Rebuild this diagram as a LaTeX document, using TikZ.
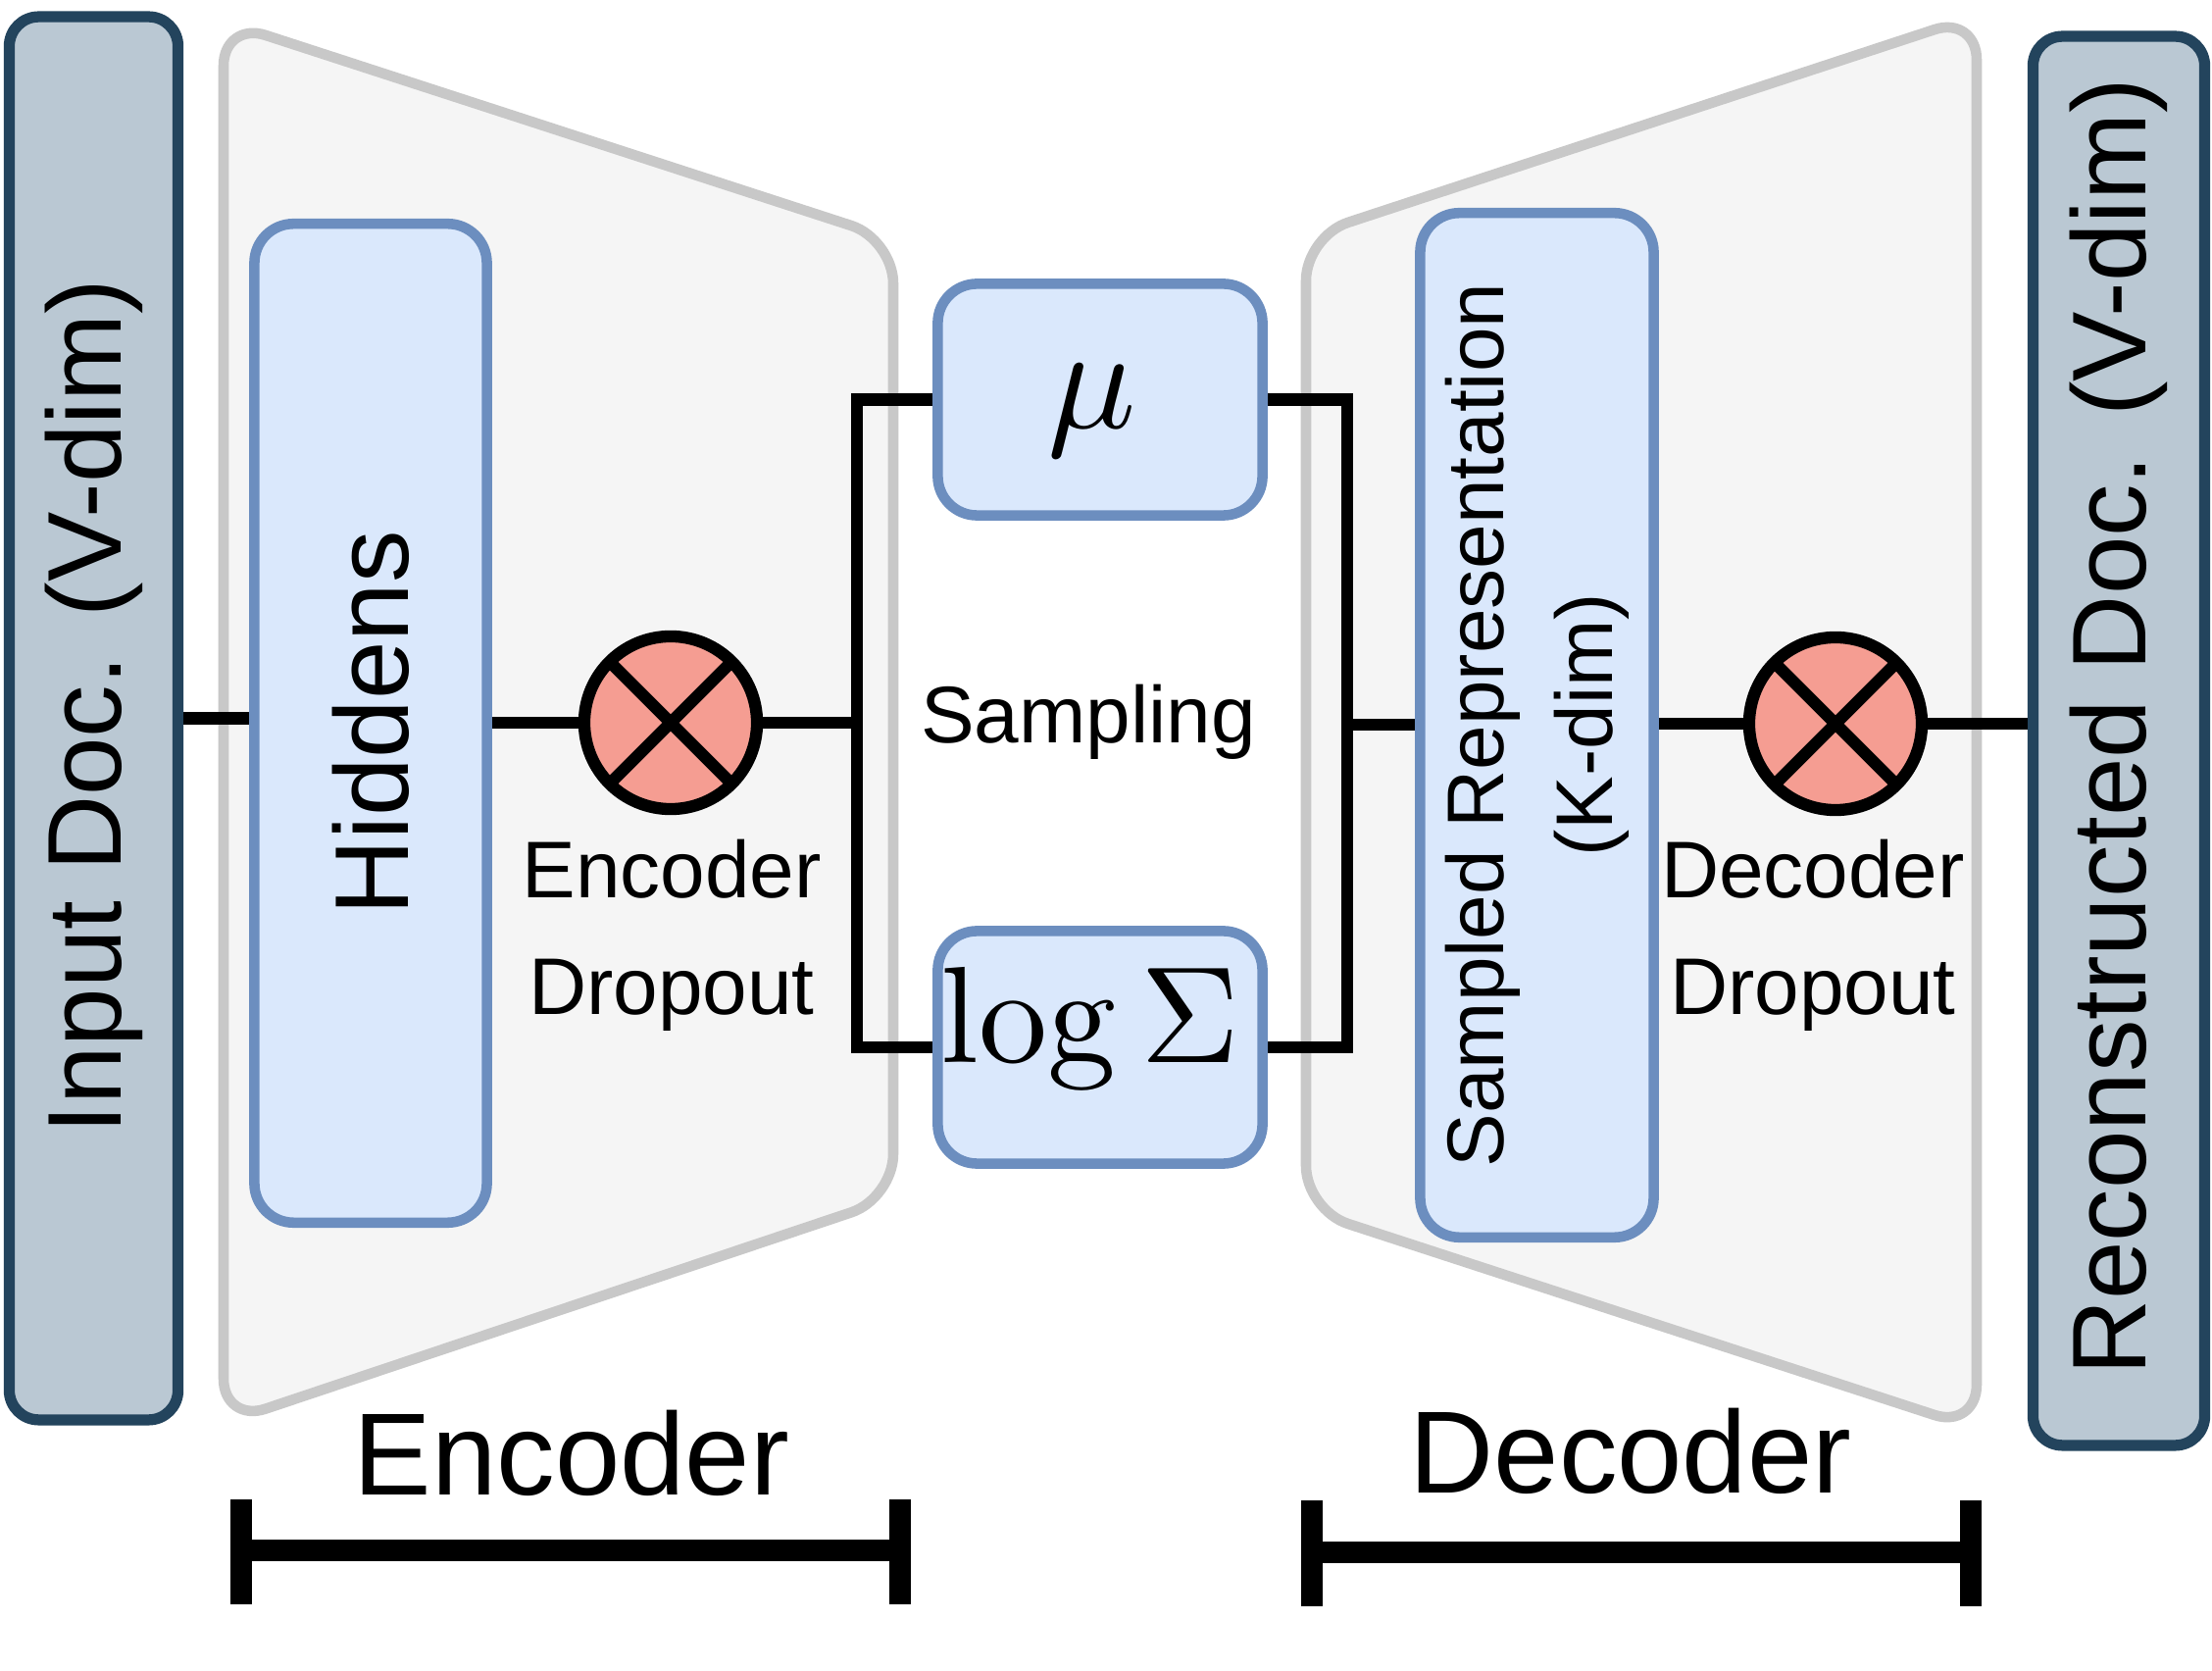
\documentclass[tikz,border=0pt]{standalone}
\usepackage{graphicx}
\usepackage[no-math]{fontspec}
\setmainfont{Liberation Sans}
\definecolor{docfill}{HTML}{BAC8D3}
\definecolor{docdraw}{HTML}{23445D}
\definecolor{bluefill}{HTML}{DAE8FC}
\definecolor{bluedraw}{HTML}{6C8EBF}
\definecolor{trapfill}{HTML}{F5F5F5}
\definecolor{trapdraw}{HTML}{C8C8C8}
\definecolor{dropfill}{HTML}{F59D92}
\begin{document}
\begin{tikzpicture}[x=0.01cm,y=-0.01cm,
  docbox/.style={draw=docdraw,fill=docfill,line width=3.2pt,rounded corners=0.3cm,inner sep=0,rotate=90,font=\fontsize{30.4}{36}\selectfont},
  bluebox/.style={draw=bluedraw,fill=bluefill,line width=3pt,rounded corners=0.4cm,inner sep=0},
  trap/.style={draw=trapdraw,fill=trapfill,line width=3pt,rounded corners=0.45cm},
  conn/.style={line width=3.5pt},
  dropc/.style={circle,draw,fill=dropfill,line width=3.5pt,minimum size=1.76cm,inner sep=0,outer sep=0},
  crossline/.style={line width=3.5pt},
  lab/.style={inner sep=0,align=center,font=\fontsize{23.3}{33.9}\selectfont},
  biglab/.style={inner sep=0,font=\fontsize{33.9}{40}\selectfont},
  mathlab/.style={anchor=base,inner sep=0,font=\fontsize{10}{12}\selectfont},
  brk/.style={line width=6.5pt}
]
\path[use as bounding box,fill=white] (0,0) rectangle (2256,1704);

% trapezoids
\draw[trap] (228,22) -- (911,244) -- (911,1222) -- (228,1451) -- cycle;
\draw[trap] (1332,241) -- (2016,16) -- (2016,1457) -- (1332,1234) -- cycle;

% nodes
\node[docbox,minimum width=14.30cm,minimum height=1.72cm] (input) at (95.5,732.5) {\hspace*{0.24cm}Input Doc. (V-dim)};
\node[docbox,minimum width=14.36cm,minimum height=1.75cm] (recon) at (2161,755.5) {\hspace*{0.28cm}Reconstructed Doc. (V-dim)};
\node[bluebox,rotate=90,minimum width=10.18cm,minimum height=2.37cm,font=\fontsize{30.4}{36}\selectfont] (hiddens) at (378,737.5) {Hiddens};
\node[bluebox,rotate=90,minimum width=10.44cm,minimum height=2.38cm,align=center,font=\fontsize{23.3}{31.6}\selectfont] (sampled) at (1567.5,739.5) {Sampled Representation\\(K-dim)};
\node[bluebox,minimum width=3.31cm,minimum height=2.36cm] (mu) at (1122,407.5) {};
\node[bluebox,minimum width=3.31cm,minimum height=2.37cm] (logS) at (1122,1068) {};
\node[mathlab] (mutxt) at (1114,437) {\scalebox{4.27}{$\mu$}};
\node[mathlab] (logtxt) at (1112,1084) {\scalebox{3.98}{$\log\Sigma$}};

\node[dropc] (encdrop) at (684,737) {};
\node[dropc] (decdrop) at (1872,738) {};
\draw[crossline] (encdrop.45) -- (encdrop.225);
\draw[crossline] (encdrop.135) -- (encdrop.315);
\draw[crossline] (decdrop.45) -- (decdrop.225);
\draw[crossline] (decdrop.135) -- (decdrop.315);

\coordinate (jl) at (874,737);
\coordinate (jr) at (1374,739);

% connectors
\draw[conn] (input.south) -- (input.south -| hiddens.north);
\draw[conn] (hiddens.south |- encdrop) -- (encdrop.west);
\draw[conn] (encdrop.east) -- (jl);
\draw[conn] (mu.west) -| (jl) |- (logS.west);
\draw[conn] (mu.east) -| (jr) |- (logS.east);
\draw[conn] (jr) -- (jr -| sampled.north);
\draw[conn] (sampled.south |- decdrop) -- (decdrop.west);
\draw[conn] (decdrop.east) -- (decdrop -| recon.north);

% labels
\node[lab,anchor=north] (enclabel) at (685,855) {Encoder\\Dropout};
\node[lab,anchor=north] (declabel) at (1849,855) {Decoder\\Dropout};
\node[lab,anchor=base] (samp) at (1110,758) {Sampling};

% brackets
\coordinate (el) at (246,1581);
\coordinate (er) at (918,1581);
\coordinate (dl) at (1338,1583);
\coordinate (dr) at (2010,1583);
\draw[brk] (el) -- (er);
\draw[brk] (el) ++(0,-52) -- ++(0,107);
\draw[brk] (er) ++(0,-52) -- ++(0,107);
\draw[brk] (dl) -- (dr);
\draw[brk] (dl) ++(0,-53) -- ++(0,108);
\draw[brk] (dr) ++(0,-53) -- ++(0,108);
\node[biglab,anchor=base] (enctitle) at (583,1525) {Encoder};
\node[biglab,anchor=base] (dectitle) at (1663,1523) {Decoder};
\end{tikzpicture}
\end{document}
